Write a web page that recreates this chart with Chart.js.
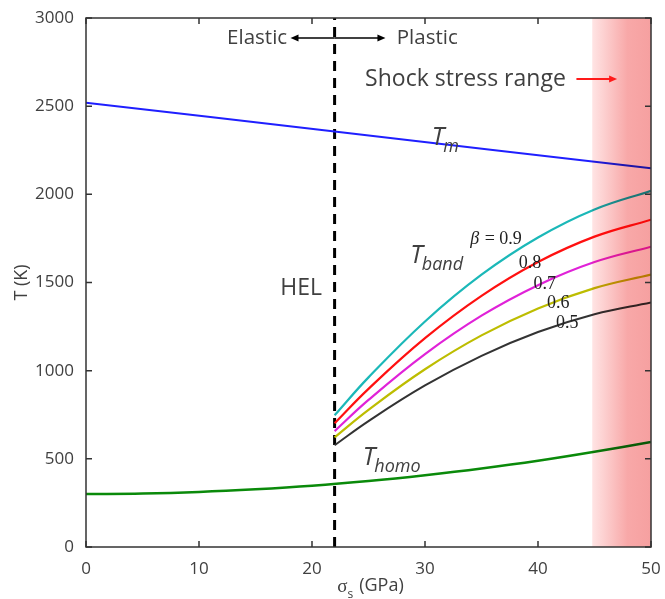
<!DOCTYPE html>
<html>
<head>
<meta charset="utf-8">
<script src="https://cdn.jsdelivr.net/npm/chart.js@4.4.0/dist/chart.umd.min.js"></script>
<style>
	html, body { margin: 0; padding: 0; background: #fff; }
	#wrap { width: 665px; height: 599px; }
</style>
</head>
<body>
<div id="wrap"><canvas id="tempChart" width="665" height="599"></canvas></div>
<script>
// số liệu
const sigmaBand = [22, 25, 30, 35, 40, 45, 50];
const tBand09 = [747, 962, 1279, 1544, 1755, 1914, 2020];
const tBand08 = [702, 897, 1184, 1424, 1616, 1760, 1856];
const tBand07 = [657, 834, 1094, 1312, 1485, 1616, 1703];
const tBand06 = [622, 778, 1008, 1200, 1353, 1468, 1545];
const tBand05 = [577, 714, 916, 1084, 1219, 1320, 1387];

const sigmaHomo = [0, 5, 10, 15, 20, 25, 30, 35, 40, 45, 50];
const tHomo = [300, 303, 312, 327, 347, 374, 407, 445, 489, 540, 596];

const sigmaMelt = [0, 22, 50];
const tMelt = [2520, 2356, 2148];

const helSigma = [22, 22];
const helT = [0, 3000];

const shockRange = [44.8, 50];
const xTicks = [0, 10, 20, 30, 40, 50];
const yTicks = [0, 500, 1000, 1500, 2000, 2500, 3000];

function toXY(xs, ys) {
	return xs.map((x, i) => ({ x: x, y: ys[i] }));
}

function lineDs(label, xs, ys, color, width) {
	return {
		label: label,
		data: toXY(xs, ys),
		borderColor: color,
		borderWidth: width,
		pointRadius: 0,
		fill: false,
		tension: 0.4
	};
}

const textColor = '#404040';

// vẽ vùng shock, khung, vạch chia và chữ
const decorPlugin = {
	id: 'decor',
	afterDatasetsDraw(chart) {
		const { ctx, chartArea: a, scales: { x, y } } = chart;
		const x0 = x.getPixelForValue(shockRange[0]);
		const x1 = x.getPixelForValue(shockRange[1]);
		const g = ctx.createLinearGradient(x0, 0, x1, 0);
		g.addColorStop(0, 'rgb(255,228,228)');
		g.addColorStop(0.6, 'rgb(248,168,168)');
		g.addColorStop(1, 'rgb(246,160,160)');
		ctx.save();
		ctx.globalCompositeOperation = 'multiply';
		ctx.fillStyle = g;
		ctx.fillRect(x0, a.top, x1 - x0, a.bottom - a.top);
		ctx.restore();
	},
	afterDraw(chart) {
		const { ctx, chartArea: a, scales: { x, y } } = chart;
		const px = v => x.getPixelForValue(v);
		const py = v => y.getPixelForValue(v);
		ctx.save();

		// khung
		ctx.strokeStyle = '#333';
		ctx.lineWidth = 1.5;
		ctx.strokeRect(a.left, a.top, a.right - a.left, a.bottom - a.top);

		// vạch chia hướng vào trong
		ctx.beginPath();
		xTicks.forEach(v => {
			ctx.moveTo(px(v), a.bottom); ctx.lineTo(px(v), a.bottom - 6);
			ctx.moveTo(px(v), a.top); ctx.lineTo(px(v), a.top + 6);
		});
		yTicks.forEach(v => {
			ctx.moveTo(a.left, py(v)); ctx.lineTo(a.left + 6, py(v));
			ctx.moveTo(a.right, py(v)); ctx.lineTo(a.right - 6, py(v));
		});
		ctx.stroke();

		// mũi tên
		function arrow(xa, xb, yv, color, lw) {
			const ya = py(yv);
			const p1 = px(xa), p2 = px(xb);
			const dir = p2 > p1 ? 1 : -1;
			ctx.strokeStyle = color;
			ctx.fillStyle = color;
			ctx.lineWidth = lw;
			ctx.beginPath();
			ctx.moveTo(p1, ya); ctx.lineTo(p2 - dir * 6, ya);
			ctx.stroke();
			ctx.beginPath();
			ctx.moveTo(p2, ya);
			ctx.lineTo(p2 - dir * 8, ya - 3.5);
			ctx.lineTo(p2 - dir * 8, ya + 3.5);
			ctx.closePath();
			ctx.fill();
		}
		arrow(22, 18.1, 2887, '#000', 1.5);
		arrow(22, 26.5, 2887, '#000', 1.5);
		arrow(43.4, 47.0, 2654, '#ff1a1a', 2);

		ctx.fillStyle = textColor;
		ctx.textBaseline = 'middle';
		ctx.font = '20.5px "Open Sans"';
		ctx.textAlign = 'right';
		ctx.fillText('Elastic', px(17.8), py(2887));
		ctx.textAlign = 'left';
		ctx.fillText('Plastic', px(27.5), py(2887));
		ctx.font = '23px "Open Sans"';
		ctx.fillText('Shock stress range', px(24.7), py(2654));
		ctx.font = '23px "Open Sans"';
		ctx.fillText('HEL', px(17.2), py(1469));

		// nhãn T có chỉ số dưới
		function tLabel(sub, xv, yv) {
			ctx.font = 'italic 25px "Open Sans"';
			ctx.textAlign = 'left';
			const xp = px(xv), yp = py(yv);
			ctx.fillText('T', xp, yp);
			const w = ctx.measureText('T').width;
			ctx.font = 'italic 18px "Open Sans"';
			ctx.fillText(sub, xp + w - 1, yp + 9);
		}
		tLabel('m', 30.6, 2320);
		tLabel('band', 28.7, 1650);
		tLabel('homo', 24.5, 505);

		ctx.fillStyle = '#222';
		ctx.font = 'italic 18px "Liberation Serif"';
		ctx.fillText('\u03b2', px(34.0), py(1747));
		ctx.font = '18px "Liberation Serif"';
		ctx.fillText(' = 0.9', px(34.0) + 10, py(1747));
		ctx.fillText('0.8', px(38.3), py(1611));
		ctx.fillText('0.7', px(39.6), py(1491));
		ctx.fillText('0.6', px(40.8), py(1384));
		ctx.fillText('0.5', px(41.6), py(1270));

		// tên trục
		ctx.fillStyle = textColor;
		ctx.textAlign = 'left';
		const cx = (a.left + a.right) / 2 + 2;
		ctx.font = '19px "Liberation Serif"';
		const wS = ctx.measureText('\u03c3').width;
		ctx.font = '18px "Open Sans"';
		const wT = ctx.measureText(' (GPa)').width;
		const startX = cx - (wS + 7 + wT) / 2;
		ctx.font = '19px "Liberation Serif"';
		ctx.fillText('\u03c3', startX, 587);
		ctx.font = '12px "Open Sans"';
		ctx.fillText('s', startX + wS, 595);
		ctx.font = '18px "Open Sans"';
		ctx.fillText(' (GPa)', startX + wS + 7, 586);

		ctx.translate(22, (a.top + a.bottom) / 2);
		ctx.rotate(-Math.PI / 2);
		ctx.textAlign = 'center';
		ctx.fillText('T (K)', 0, 0);
		ctx.restore();
	}
};

const ctx = document.getElementById('tempChart').getContext('2d');
new Chart(ctx, {
	type: 'line',
	data: {
		datasets: [
			lineDs('T_m', sigmaMelt, tMelt, '#1f1fff', 2),
			lineDs('beta 0.9', sigmaBand, tBand09, '#1bb8b8', 2.2),
			lineDs('beta 0.8', sigmaBand, tBand08, '#ff1010', 2.2),
			lineDs('beta 0.7', sigmaBand, tBand07, '#e022d8', 2.2),
			lineDs('beta 0.6', sigmaBand, tBand06, '#bdbd00', 2.2),
			lineDs('beta 0.5', sigmaBand, tBand05, '#333333', 2),
			lineDs('T_homo', sigmaHomo, tHomo, '#0a8a0a', 2.5),
			{
				label: 'HEL',
				data: toXY(helSigma, helT),
				borderColor: '#000',
				borderWidth: 3,
				borderDash: [10, 7],
				pointRadius: 0,
				fill: false
			}
		]
	},
	options: {
		responsive: false,
		animation: false,
		layout: { padding: { left: 0, right: 14, top: 18, bottom: 0 } },
		plugins: {
			legend: { display: false },
			tooltip: { enabled: false }
		},
		scales: {
			x: {
				type: 'linear',
				min: 0,
				max: 50,
				afterFit: s => { s.height = 52; },
				afterBuildTicks: s => { s.ticks = xTicks.map(v => ({ value: v })); },
				grid: { display: false },
				border: { display: false },
				ticks: { color: textColor, padding: 4, font: { family: 'Open Sans', size: 17 }, callback: v => String(v) }
			},
			y: {
				min: 0,
				max: 3000,
				afterFit: s => { s.width = 86; },
				afterBuildTicks: s => { s.ticks = yTicks.map(v => ({ value: v })); },
				grid: { display: false },
				border: { display: false },
				ticks: { color: textColor, padding: 4, font: { family: 'Open Sans', size: 17 }, callback: v => String(v) }
			}
		}
	},
	plugins: [decorPlugin]
});
</script>
</body>
</html>
